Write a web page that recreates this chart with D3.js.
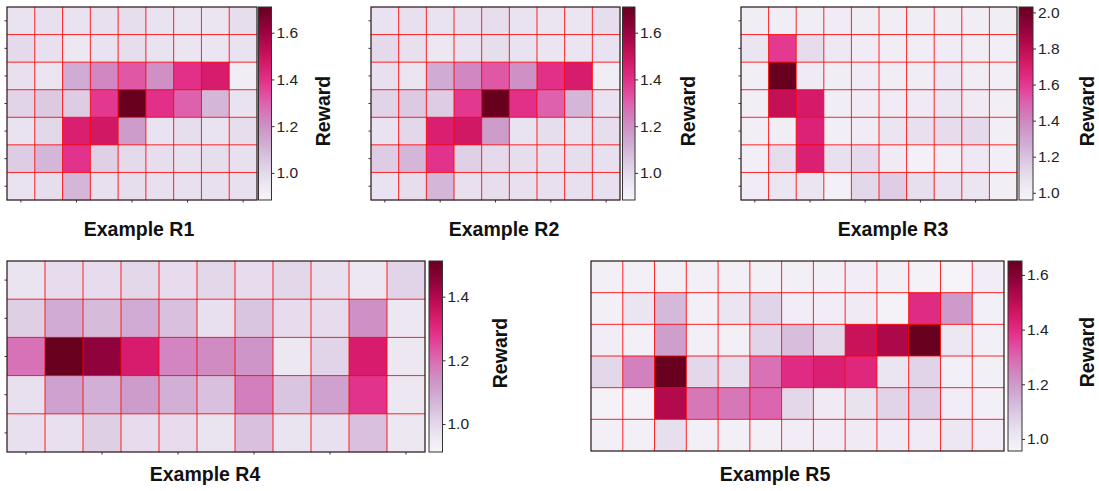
<!DOCTYPE html>
<html>
<head>
<meta charset="utf-8">
<script src="https://cdn.jsdelivr.net/npm/d3@7"></script>
<style>
  body { margin: 0; background: #fff; }
  svg { display: block; font-family: Arial, "Liberation Sans", sans-serif; }
</style>
</head>
<body>
<div id="chart"></div>
<script>
// reward grids, rows listed top to bottom
var r1Values = [
  [0.97, 0.98, 0.97, 0.98, 0.99, 0.97, 0.96, 0.96, 0.99],
  [1.00, 0.98, 0.95, 0.97, 0.99, 0.97, 0.96, 0.96, 0.97],
  [0.98, 0.96, 1.13, 1.22, 1.32, 1.20, 1.40, 1.46, 0.92],
  [1.02, 1.05, 1.04, 1.38, 1.71, 1.40, 1.30, 1.10, 0.97],
  [0.97, 1.01, 1.45, 1.48, 1.17, 0.97, 0.99, 0.97, 0.99],
  [1.04, 1.10, 1.39, 1.03, 1.00, 0.99, 0.98, 0.99, 0.98],
  [0.97, 0.99, 1.10, 0.98, 0.99, 0.98, 0.98, 0.98, 0.98]
];
var r2Values = [
  [0.97, 0.98, 0.97, 0.98, 0.99, 0.97, 0.96, 0.96, 0.99],
  [1.00, 0.98, 0.95, 0.97, 0.99, 0.97, 0.96, 0.96, 0.97],
  [0.98, 0.96, 1.13, 1.22, 1.32, 1.20, 1.40, 1.46, 0.92],
  [1.02, 1.05, 1.04, 1.38, 1.71, 1.40, 1.30, 1.10, 0.97],
  [0.97, 1.01, 1.45, 1.48, 1.17, 0.97, 0.99, 0.97, 0.99],
  [1.04, 1.10, 1.39, 1.03, 1.00, 0.99, 0.98, 0.99, 0.98],
  [0.97, 0.99, 1.10, 0.98, 0.99, 0.98, 0.98, 0.98, 0.98]
];
var r3Values = [
  [1.01, 1.01, 1.01, 1.02, 1.01, 1.01, 1.01, 1.01, 1.01, 1.01],
  [1.06, 1.60, 1.10, 1.04, 1.02, 1.01, 1.01, 1.02, 1.01, 1.00],
  [1.00, 2.03, 1.03, 1.01, 1.02, 1.01, 1.01, 1.04, 1.01, 1.00],
  [1.00, 1.78, 1.72, 1.01, 1.02, 1.02, 1.03, 1.05, 1.03, 1.00],
  [1.00, 1.01, 1.68, 1.00, 1.02, 1.06, 1.08, 1.10, 1.11, 1.00],
  [1.00, 1.10, 1.69, 1.08, 1.11, 1.03, 0.99, 1.00, 1.04, 1.00],
  [1.02, 1.05, 1.06, 0.99, 1.12, 1.16, 1.09, 1.07, 1.06, 1.00]
];
var r4Values = [
  [0.97, 0.99, 0.99, 1.00, 0.99, 1.00, 0.99, 1.00, 0.98, 0.96, 1.01],
  [1.02, 1.09, 1.06, 1.09, 1.05, 0.98, 1.04, 0.99, 0.99, 1.14, 0.96],
  [1.19, 1.51, 1.45, 1.33, 1.16, 1.15, 1.13, 0.96, 1.01, 1.33, 0.96],
  [0.98, 1.11, 1.08, 1.12, 1.08, 1.05, 1.17, 1.04, 1.11, 1.28, 0.96],
  [0.98, 0.98, 1.02, 0.99, 0.99, 0.97, 1.05, 0.97, 0.98, 1.05, 0.96]
];
var r5Values = [
  [0.98, 0.98, 0.98, 0.98, 0.98, 0.98, 0.98, 0.98, 0.99, 0.98, 0.97, 0.96, 0.99],
  [0.98, 1.02, 1.13, 0.98, 1.02, 1.07, 0.99, 0.99, 1.00, 0.97, 1.40, 1.20, 0.98],
  [0.99, 0.98, 1.19, 0.98, 0.98, 1.07, 1.12, 1.06, 1.48, 1.53, 1.65, 1.01, 0.98],
  [1.06, 1.25, 1.65, 1.06, 1.04, 1.28, 1.40, 1.43, 1.41, 1.02, 1.07, 0.98, 0.98],
  [0.97, 0.97, 1.52, 1.27, 1.27, 1.30, 1.06, 1.00, 1.03, 1.07, 1.08, 0.99, 0.98],
  [0.98, 0.98, 1.04, 0.98, 0.98, 0.98, 0.99, 0.99, 1.00, 1.00, 1.00, 1.01, 0.99]
];

var titles = ["Example R1", "Example R2", "Example R3", "Example R4", "Example R5"];
var colorRanges = [[0.884, 1.71], [0.884, 1.71], [0.96, 2.03], [0.912, 1.512], [0.956, 1.651]];
var colorTicks = [
  [1.0, 1.2, 1.4, 1.6],
  [1.0, 1.2, 1.4, 1.6],
  [1.0, 1.2, 1.4, 1.6, 1.8, 2.0],
  [1.0, 1.2, 1.4],
  [1.0, 1.2, 1.4, 1.6]
];

var width = 1099;
var height = 491;

// where each panel sits on the page
var panels = [
  { data: r1Values, x0: 7, x1: 257, y0: 7, y1: 200, cbX: 258.5, cbW: 13, titleX: 139, titleY: 236, labelX: 323, labelY: 111, ticks: true },
  { data: r2Values, x0: 371, x1: 620, y0: 7, y1: 200, cbX: 622.5, cbW: 12.5, titleX: 504, titleY: 236, labelX: 688, labelY: 111, ticks: true },
  { data: r3Values, x0: 741, x1: 1017, y0: 7, y1: 200, cbX: 1019, cbW: 14, titleX: 893, titleY: 236, labelX: 1087, labelY: 111, ticks: true },
  { data: r4Values, x0: 7, x1: 425, y0: 261, y1: 452, cbX: 429, cbW: 13.5, titleX: 205, titleY: 481, labelX: 500, labelY: 353, ticks: true },
  { data: r5Values, x0: 591, x1: 1004, y0: 261, y1: 451, cbX: 1008, cbW: 14, titleX: 775, titleY: 481, labelX: 1087, labelY: 352, ticks: false }
];

var svg = d3.select("#chart").append("svg")
    .attr("width", width)
    .attr("height", height);

var defs = svg.append("defs");

panels.forEach(function (p, k) {
    var rows = p.data.length;
    var cols = p.data[0].length;
    var g = svg.append("g");

    var x = d3.scaleBand().domain(d3.range(cols)).range([p.x0, p.x1]);
    var y = d3.scaleBand().domain(d3.range(rows)).range([p.y0, p.y1]);
    var color = d3.scaleSequential(d3.interpolatePuRd).domain(colorRanges[k]);

    var cells = [];
    p.data.forEach(function (row, r) {
        row.forEach(function (v, c) {
            cells.push({ r: r, c: c, v: v });
        });
    });

    g.selectAll("rect.cell")
        .data(cells)
        .enter()
        .append("rect")
        .attr("class", "cell")
        .attr("x", function (d) { return x(d.c); })
        .attr("y", function (d) { return y(d.r); })
        .attr("width", x.bandwidth() + 0.5)
        .attr("height", y.bandwidth() + 0.5)
        .attr("fill", function (d) { return color(d.v); });

    // red grid between cells
    var grid = g.append("g")
        .attr("stroke", "#ff0000")
        .attr("stroke-opacity", 0.85)
        .attr("stroke-width", 1);
    d3.range(1, cols).forEach(function (c) {
        grid.append("line")
            .attr("x1", x(c)).attr("x2", x(c))
            .attr("y1", p.y0).attr("y2", p.y1);
    });
    d3.range(1, rows).forEach(function (r) {
        grid.append("line")
            .attr("x1", p.x0).attr("x2", p.x1)
            .attr("y1", y(r)).attr("y2", y(r));
    });

    g.append("rect")
        .attr("x", p.x0)
        .attr("y", p.y0)
        .attr("width", p.x1 - p.x0)
        .attr("height", p.y1 - p.y0)
        .attr("fill", "none")
        .attr("stroke", "#2a1414")
        .attr("stroke-width", 1.2);

    if (p.ticks) {
        var xAxis = d3.axisBottom(x)
            .tickValues(d3.range(0, cols, 2))
            .tickSize(2.5)
            .tickFormat("");
        g.append("g")
            .attr("transform", "translate(0," + p.y1 + ")")
            .call(xAxis)
            .call(function (a) {
                a.select(".domain").remove();
                a.selectAll("line").attr("stroke", "#333");
            });
        var yAxis = d3.axisLeft(y)
            .tickSize(2.5)
            .tickFormat("");
        g.append("g")
            .attr("transform", "translate(" + p.x0 + ",0)")
            .call(yAxis)
            .call(function (a) {
                a.select(".domain").remove();
                a.selectAll("line").attr("stroke", "#333");
            });
    }

    // colour bar
    var gradId = "grad" + k;
    var grad = defs.append("linearGradient")
        .attr("id", gradId)
        .attr("x1", 0).attr("y1", 1)
        .attr("x2", 0).attr("y2", 0);
    d3.range(0, 1.0001, 0.05).forEach(function (t) {
        grad.append("stop")
            .attr("offset", t)
            .attr("stop-color", d3.interpolatePuRd(t));
    });
    g.append("rect")
        .attr("x", p.cbX)
        .attr("y", p.y0)
        .attr("width", p.cbW)
        .attr("height", p.y1 - p.y0)
        .attr("fill", "url(#" + gradId + ")")
        .attr("stroke", "#333")
        .attr("stroke-width", 1);

    var cbScale = d3.scaleLinear().domain(colorRanges[k]).range([p.y1, p.y0]);
    var cbAxis = d3.axisRight(cbScale)
        .tickValues(colorTicks[k])
        .tickSize(3)
        .tickPadding(2)
        .tickFormat(d3.format(".1f"));
    g.append("g")
        .attr("transform", "translate(" + (p.cbX + p.cbW) + ",0)")
        .call(cbAxis)
        .call(function (a) {
            a.select(".domain").remove();
            a.selectAll("line").attr("stroke", "#333");
            a.selectAll("text")
                .attr("font-size", "15.5px")
                .attr("font-family", "Arial, 'Liberation Sans', sans-serif")
                .attr("fill", "#222");
        });

    g.append("text")
        .attr("transform", "translate(" + p.labelX + "," + p.labelY + ") rotate(-90)")
        .attr("text-anchor", "middle")
        .attr("dominant-baseline", "central")
        .attr("font-size", "19.5px")
        .attr("font-weight", "bold")
        .attr("fill", "#111")
        .text("Reward");

    g.append("text")
        .attr("x", p.titleX)
        .attr("y", p.titleY)
        .attr("text-anchor", "middle")
        .attr("font-size", "19.5px")
        .attr("font-weight", "bold")
        .attr("fill", "#111")
        .text(titles[k]);
});
</script>
</body>
</html>
